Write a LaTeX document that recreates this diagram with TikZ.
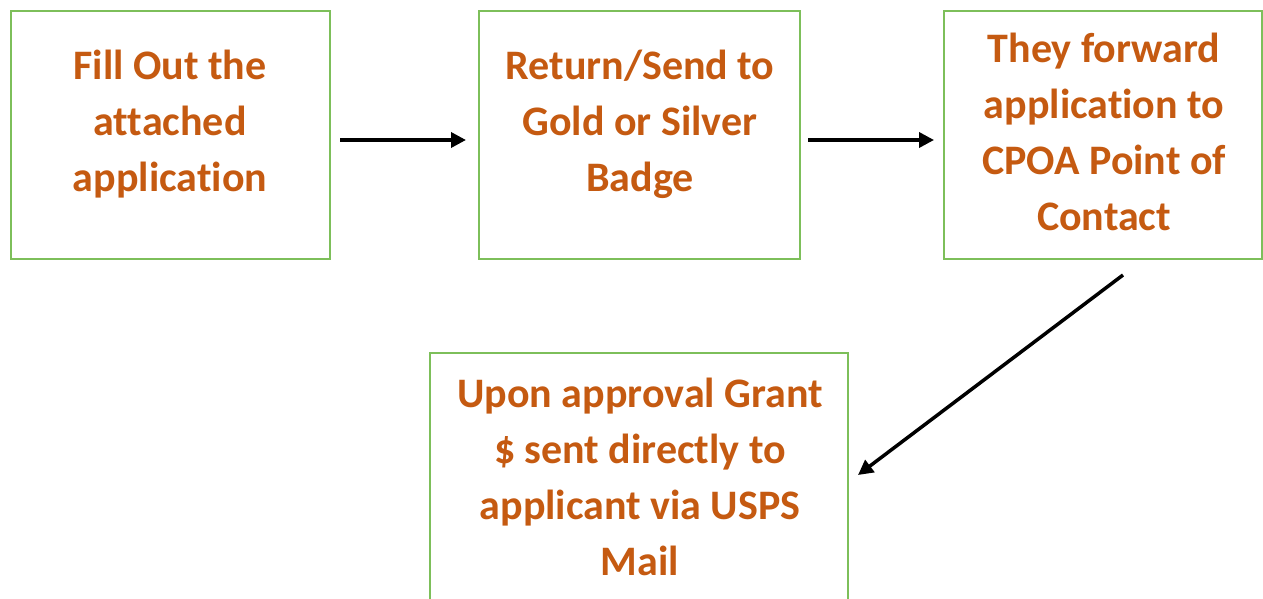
\documentclass[tikz,border=0pt]{standalone}
\usepackage{fontspec}
\setmainfont{Carlito}[Ligatures=NoCommon]
\usetikzlibrary{arrows.meta}
\definecolor{boxgreen}{HTML}{7DBF5A}
\definecolor{txtorange}{HTML}{C55A11}
\begin{document}
\begin{tikzpicture}[x=1pt,y=-1pt,
  stepbox/.style={draw=boxgreen,line width=2pt,fill=white},
  steptext/.style={text=txtorange,font=\fontsize{42}{56}\selectfont\bfseries,align=center,inner sep=0pt},
  flow/.style={-{Triangle[length=15pt,width=15pt]},line width=3.5pt,black}]
\useasboundingbox (0,0) rectangle (1263,599);
\clip (0,0) rectangle (1263,599);
\fill[white] (0,0) rectangle (1263,599);
\draw[stepbox] (11,11) rectangle (330,259);
\draw[stepbox] (479,11) rectangle (800,259);
\draw[stepbox] (944,11) rectangle (1262,259);
\draw[stepbox] (430,353) rectangle (848,640);
\node[steptext] (t1) at (170,124) {Fill Out the\\attached\\application};
\node[steptext] (t2) at (640,124) {Return/Send to\\Gold or Silver\\Badge};
\node[steptext] (t3) at (1104,132) {They forward\\application to\\CPOA Point of\\Contact};
\node[steptext] (t4) at (640,477) {Upon approval Grant\\\$ sent directly to\\applicant via USPS\\Mail};
\coordinate (a1s) at (340,140);
\coordinate (a1e) at (466,140);
\coordinate (a2s) at (808,140);
\coordinate (a2e) at (934,140);
\coordinate (a3s) at (1123,275);
\coordinate (a3e) at (858,475);
\draw[flow] (a1s) -- (a1e);
\draw[flow] (a2s) -- (a2e);
\draw[flow] (a3s) -- (a3e);
\end{tikzpicture}
\end{document}
